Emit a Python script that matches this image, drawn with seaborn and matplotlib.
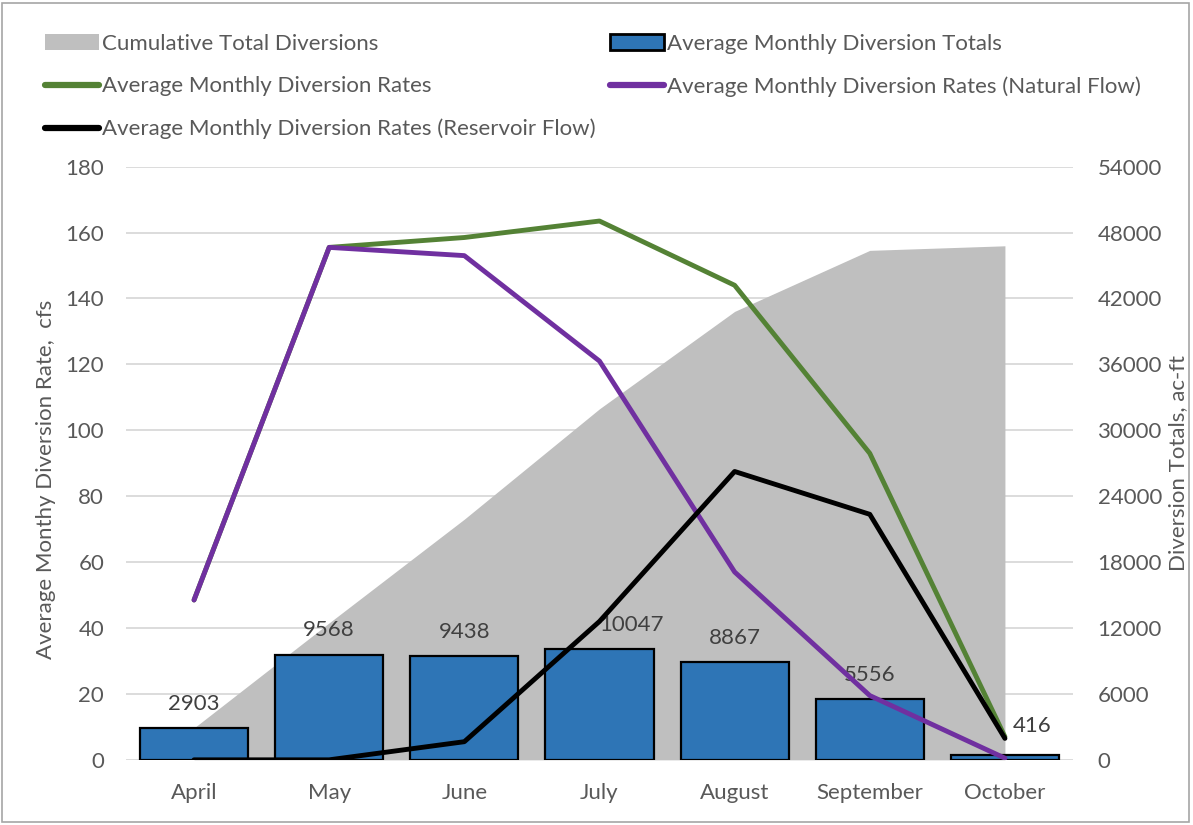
import numpy as np
import pandas as pd
import matplotlib
matplotlib.use("Agg")
import matplotlib.pyplot as plt
from matplotlib.patches import Patch, Rectangle
from matplotlib.lines import Line2D
import seaborn as sns

months = ["April", "May", "June", "July", "August", "September", "October"]
totals = [2903, 9568, 9438, 10047, 8867, 5556, 416]            # ac-ft, right axis
rate_total = [48.5, 155.5, 158.5, 163.5, 144, 93, 7]             # cfs
rate_natural = [48.5, 155.5, 153, 121, 57, 19.5, 0.5]            # cfs
rate_reservoir = [0, 0, 5.5, 42, 87.5, 74.5, 6.5]                # cfs
cumulative = np.cumsum(totals)

sns.set_style("white")
plt.rcParams['font.family'] = ['Lato', 'DejaVu Sans']
txt = '#595959'
fs = 16

df = pd.DataFrame({"month": months, "totals": totals})
pos = np.arange(len(months))

fig = plt.figure(figsize=(11.93, 8.25), dpi=100)
ax2 = fig.add_axes([0.106, 0.079, 0.793, 0.719])   # right axis: area + bars
ax = ax2.twinx()                                    # left axis: rate lines
# lines on top of bars/area
ax.set_zorder(ax2.get_zorder() + 1)
ax.patch.set_visible(False)

ax2.yaxis.tick_right()
ax2.yaxis.set_label_position("right")
ax.yaxis.tick_left()
ax.yaxis.set_label_position("left")

ax2.set_axisbelow(True)
ax2.grid(axis='y', color='#d9d9d9', linewidth=1.3, zorder=0)
ax2.fill_between(pos, cumulative, color='#bfbfbf', linewidth=0, zorder=1)
sns.barplot(data=df, x="month", y="totals", ax=ax2, color='#2e75b6',
            saturation=1, width=0.8, edgecolor='black', linewidth=1.6, zorder=2)
# data labels (a couple nudged right like the original)
nudge = {3: 0.0, 6: 0.06}
for i, v in enumerate(totals):
    if i in nudge:
        ax2.text(i + nudge[i], v + (1300 if i != 6 else 1750), str(v), ha='left', va='bottom',
                 fontsize=fs, color='#404040', zorder=3)
    else:
        ax2.text(i, v + 1300, str(v), ha='center', va='bottom', fontsize=fs, color='#404040', zorder=3)

ax2.set_ylim(0, 54000)
ax2.set_yticks(np.arange(0, 54001, 6000))
ax2.set_ylabel("Diversion Totals, ac-ft", fontsize=fs, color=txt)
ax2.yaxis.set_label_coords(1.101, 0.5)
ax2.set_xlabel("")

sns.lineplot(x=pos, y=rate_total, ax=ax, color='#548235', linewidth=3.5)
sns.lineplot(x=pos, y=rate_natural, ax=ax, color='#7030a0', linewidth=3.5)
sns.lineplot(x=pos, y=rate_reservoir, ax=ax, color='black', linewidth=3.5)
ax.set_ylim(0, 180)
ax.set_yticks(np.arange(0, 181, 20))
ax.set_ylabel("Average Monthy Diversion Rate,  cfs", fontsize=fs, color=txt)
ax.yaxis.set_label_coords(-0.074, 0.472)
ax.set_xlim(-0.5, 6.5)
ax2.set_xlim(-0.5, 6.5)
ax2.set_xticks(pos)
ax2.set_xticklabels(months)

for a in (ax, ax2):
    for s in a.spines.values():
        s.set_visible(False)
    a.tick_params(length=0, labelsize=fs, colors=txt)
ax2.tick_params(axis='x', pad=17)
ax2.tick_params(axis='y', pad=18)
ax.tick_params(axis='y', pad=16)

h1 = [Patch(facecolor='#bfbfbf', edgecolor='none'),
      Line2D([0], [0], color='#548235', linewidth=4.5),
      Line2D([0], [0], color='black', linewidth=4.5)]
l1 = ["Cumulative Total Diversions", "Average Monthly Diversion Rates",
      "Average Monthly Diversion Rates (Reservoir Flow)"]
h2 = [Patch(facecolor='#2e75b6', edgecolor='black', linewidth=2),
      Line2D([0], [0], color='#7030a0', linewidth=4.5)]
l2 = ["Average Monthly Diversion Totals", "Average Monthly Diversion Rates (Natural Flow)"]
kw = dict(loc='upper left', frameon=False, fontsize=fs, handlelength=2.45,
          handletextpad=0.12, labelspacing=1.01, borderpad=0, borderaxespad=0,
          labelcolor=txt)
fig.legend(h1, l1, bbox_to_anchor=(45 / 1193, 1 - 34 / 825), **kw)
fig.legend(h2, l2, bbox_to_anchor=(610 / 1193, 1 - 34 / 825), **kw)

fig.add_artist(Rectangle((2 / 1193, 3 / 825), 1187 / 1193, 819 / 825,
                         transform=fig.transFigure, fill=False,
                         edgecolor='#a6a6a6', linewidth=1.2))

fig.savefig("out.png", dpi=100)
